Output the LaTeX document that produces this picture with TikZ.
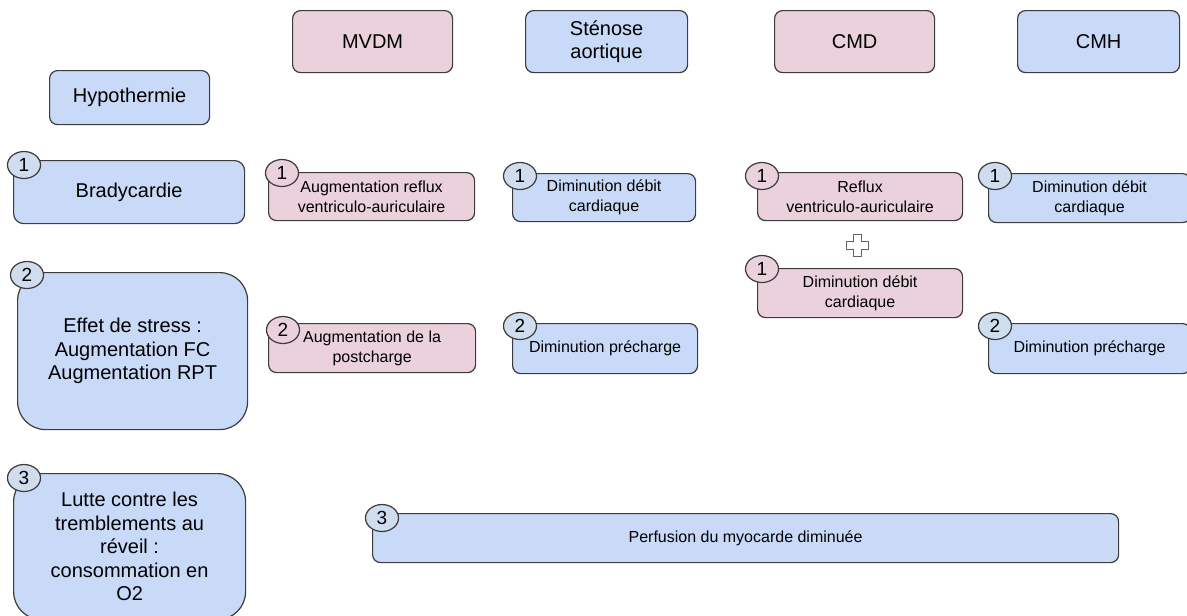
\documentclass[tikz,border=0pt]{standalone}
\usepackage{fontspec}
\setmainfont{Liberation Sans}
\usetikzlibrary{shapes.geometric}
\definecolor{boxblue}{HTML}{C9DAF8}
\definecolor{boxpink}{HTML}{EAD1DC}
\definecolor{numblue}{HTML}{CFDDEE}
\definecolor{edgecol}{HTML}{3C3C3C}
\tikzset{
  box/.style={draw=edgecol, line width=1.2pt, rounded corners=8pt, align=center,
    inner sep=0pt, anchor=north west, text=black},
  bluebox/.style={box, fill=boxblue},
  pinkbox/.style={box, fill=boxpink},
  small/.style={font=\fontsize{16}{20}\selectfont},
  large/.style={font=\fontsize{20}{23.5}\selectfont},
  numtag/.style={ellipse, draw=edgecol, line width=1.2pt, minimum width=33pt,
    minimum height=27pt, inner sep=0pt, font=\fontsize{19}{19}\selectfont},
  numblu/.style={numtag, fill=numblue},
  numpnk/.style={numtag, fill=boxpink},
  plussym/.style={draw=edgecol!80, line width=1pt, fill=white}
}
\begin{document}
\begin{tikzpicture}[x=1pt, y=-1pt]
\useasboundingbox (0,0) rectangle (1187,616);
% headers
\node[bluebox, large, minimum width=160pt, minimum height=54pt] (hyp) at (49,70) {Hypothermie};
\node[pinkbox, large, minimum width=160pt, minimum height=62pt] (mvdm) at (292,10) {MVDM};
\node[bluebox, large, minimum width=162pt, minimum height=62pt] (sten) at (525,10) {Sténose\\aortique};
\node[pinkbox, large, minimum width=160pt, minimum height=62pt] (cmd) at (774,10) {CMD};
\node[bluebox, large, minimum width=162pt, minimum height=62pt] (cmh) at (1017,10) {CMH};
% left column
\node[bluebox, large, rounded corners=10pt, minimum width=231pt, minimum height=63pt] (brad) at (13,160) {Bradycardie};
\node[bluebox, large, rounded corners=28pt, minimum width=230pt, minimum height=157pt] (stress) at (17,272) {Effet de stress :\\Augmentation FC\\Augmentation RPT};
\node[bluebox, large, rounded corners=28pt, minimum width=232pt, minimum height=146pt] (lutte) at (13,473) {Lutte contre les\\tremblements au\\réveil :\\consommation en\\O2};
% row 1
\node[pinkbox, small, minimum width=206pt, minimum height=48pt] (m1) at (268,172) {Augmentation reflux\\ventriculo-auriculaire};
\node[bluebox, small, minimum width=183pt, minimum height=48pt] (s1) at (512,173) {Diminution débit\\cardiaque};
\node[pinkbox, small, minimum width=205pt, minimum height=48pt] (c1) at (757,172) {Reflux\\ventriculo-auriculaire};
\node[bluebox, small, minimum width=202pt, minimum height=49pt] (h1) at (988,173) {Diminution débit\\cardiaque};
\node[pinkbox, small, minimum width=205pt, minimum height=49pt] (c1b) at (757,268) {Diminution débit\\cardiaque};
% row 2
\node[pinkbox, small, minimum width=207pt, minimum height=49pt] (m2) at (268,323) {Augmentation de la\\postcharge};
\node[bluebox, small, minimum width=185pt, minimum height=50pt] (s2) at (512,323) {Diminution précharge};
\node[bluebox, small, minimum width=202pt, minimum height=50pt] (h2) at (988,323) {Diminution précharge};
% row 3
\node[bluebox, small, minimum width=746pt, minimum height=49pt] (perf) at (372,513) {Perfusion du myocarde diminuée};
% plus sign
\draw[plussym, shift={(857,245)}] (-4,-11) -- (4,-11) -- (4,-4) -- (11,-4) -- (11,4) -- (4,4) -- (4,11) -- (-4,11) -- (-4,4) -- (-11,4) -- (-11,-4) -- (-4,-4) -- cycle;
% number tags
\node[numblu] (nbrad) at ([xshift=11pt,yshift=-5pt]brad.north west) {1};
\node[numblu] (nstress) at ([xshift=10pt,yshift=-3pt]stress.north west) {2};
\node[numblu] (nlutte) at ([xshift=11pt,yshift=-5pt]lutte.north west) {3};
\node[numpnk] (nm1) at ([xshift=14pt,yshift=-1pt]m1.north west) {1};
\node[numblu] (ns1) at ([xshift=8pt,yshift=-3pt]s1.north west) {1};
\node[numpnk] (nc1) at ([xshift=5pt,yshift=-4pt]c1.north west) {1};
\node[numblu] (nh1) at ([xshift=7pt,yshift=-3pt]h1.north west) {1};
\node[numpnk] (nc1b) at ([xshift=5pt,yshift=-1pt]c1b.north west) {1};
\node[numpnk] (nm2) at ([xshift=15pt,yshift=-7pt]m2.north west) {2};
\node[numblu] (ns2) at ([xshift=8pt,yshift=-3pt]s2.north west) {2};
\node[numblu] (nh2) at ([xshift=7pt,yshift=-3pt]h2.north west) {2};
\node[numblu] (nperf) at ([xshift=10pt,yshift=-5pt]perf.north west) {3};
\end{tikzpicture}
\end{document}
